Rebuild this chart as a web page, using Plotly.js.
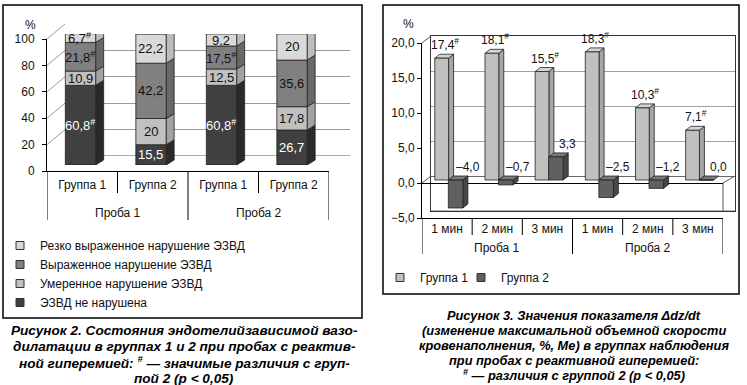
<!DOCTYPE html>
<html><head><meta charset="utf-8">
<script src="https://cdn.plot.ly/plotly-3.0.1.min.js"></script>
<style>html,body{margin:0;padding:0;background:#fff;}#chart{width:747px;height:385px;}</style>
</head><body><div id="chart"></div>
<script>
// ===== Figure 2 data (stacked, %) =====
const fig2Tests = ["Проба 1", "Проба 1", "Проба 2", "Проба 2"];
const fig2Groups = ["Группа 1", "Группа 2", "Группа 1", "Группа 2"];
const fig2SeriesNames = ["ЭЗВД не нарушена", "Умеренное нарушение ЭЗВД", "Выраженное нарушение ЭЗВД", "Резко выраженное нарушение ЭЗВД"];
const notImpaired = [60.8, 15.5, 60.8, 26.7];
const moderate = [10.9, 20, 12.5, 17.8];
const marked = [21.8, 42.2, 17.5, 35.6];
const severe = [6.7, 22.2, 9.2, 20];
const notImpairedSig = [true, false, true, false];
const moderateSig = [false, false, false, false];
const markedSig = [true, false, true, false];
const severeSig = [true, false, false, false];
const fig2Ticks = [0, 20, 40, 60, 80, 100];
const fig2Caption = [
  "Рисунок 2. Состояния эндотелийзависимой вазо-",
  "дилатации в группах 1 и 2 при пробах с реактив-",
  "ной гиперемией: <sup>#</sup> — значимые различия с груп-",
  "пой 2 (р &lt; 0,05)"
];

// ===== Figure 3 data (Δdz/dt, %) =====
const fig3Tests = ["Проба 1", "Проба 1", "Проба 1", "Проба 2", "Проба 2", "Проба 2"];
const fig3Minutes = ["1 мин", "2 мин", "3 мин", "1 мин", "2 мин", "3 мин"];
const fig3SeriesNames = ["Группа 1", "Группа 2"];
const group1 = [17.4, 18.1, 15.5, 18.3, 10.3, 7.1];
const group2 = [-4.0, -0.7, 3.3, -2.5, -1.2, 0.0];
const group1Sig = [true, true, true, true, true, true];
const group2Sig = [false, false, false, false, false, false];
const fig3Ticks = [-5, 0, 5, 10, 15, 20];
const fig3Caption = [
  "Рисунок 3. Значения показателя Δdz/dt",
  "(изменение максимальной объемной скорости",
  "кровенаполнения, %, Ме) в группах наблюдения",
  "при пробах с реактивной гиперемией:",
  "<sup>#</sup> — различия с группой 2 (р &lt; 0,05)"
];

// ===== geometry (pixels) =====
const W = 747, H = 385;
const px = x => x / W;
const py = y => 1 - y / H;
const FONT = '"Liberation Sans", Arial, sans-serif';
const CAPFONT = '"Liberation Sans", Arial, sans-serif';

const L = {fx0: 47, fx1: 329, tick0: 171, tickTop: 39, bar0: 165, barTop: 34, bx0: 65, bx1: 350, back0: 156, backTop: 24,
  innerSepBot: 193, outerY: 213, divBot: 220};
const R = {fx0: 422, fx1: 723, tickBot: 218, tickTop: 43, barBot: 215, barTop: 40, bx0: 431, bx1: 735, backBot: 211, backTop: 36,
  innerSepBot: 235, outerY: 248, divBot: 254};

const fig2Range = [0, 100], fig3Range = [-5, 20];
const nL = fig2Groups.length, nR = fig3Minutes.length;
const idx2 = fig2Groups.map((_, i) => i);
const idx3 = fig3Minutes.map((_, i) => i);

// pixel -> axis-unit conversions for 3D depth
const L_xUnitPx = (L.fx1 - L.fx0) / nL;
const L_yUnitPx = (L.bar0 - L.barTop) / (fig2Range[1] - fig2Range[0]);
const L_backUnitPx = (L.back0 - L.backTop) / (fig2Range[1] - fig2Range[0]);
const L_frontOff = (L.tick0 - L.back0) / L_backUnitPx;
const R_xUnitPx = (R.fx1 - R.fx0) / nR;
const R_yUnitPx = (R.barBot - R.barTop) / (fig3Range[1] - fig3Range[0]);
const R_backUnitPx = (R.backBot - R.backTop) / (fig3Range[1] - fig3Range[0]);
const R_frontOff = (R.tickBot - R.backBot) / R_backUnitPx;

const L_dx = 8 / L_xUnitPx, L_dy = 5 / L_yUnitPx;
const R_dx = 5 / R_xUnitPx, R_dy = 4 / R_yUnitPx;

const barOffL = -0.24, barWL = 0.43;
const g1Off = -0.245, g1W = 0.275, g2Off = 0.025, g2W = 0.29;

const OUT = '#222';
const traces = [];
const shapes = [];
const annotations = [];

// --- subplot 1: left back-wall grid (x/y)
traces.push({type: 'scatter', x: [null], y: [null], xaxis: 'x', yaxis: 'y', showlegend: false, hoverinfo: 'skip'});
// --- subplot 2: left label axes
traces.push({type: 'scatter', x: [null], y: [null], xaxis: 'x2', yaxis: 'y2', showlegend: false, hoverinfo: 'skip'});

// --- subplot 3: left stacked bars
const fig2Series = [
  {name: fig2SeriesNames[0], vals: notImpaired, sig: notImpairedSig, color: '#404040', side: '#2a2a2a', top: '#585858', text: '#ffffff'},
  {name: fig2SeriesNames[1], vals: moderate, sig: moderateSig, color: '#c0c0c0', side: '#a2a2a2', top: '#d0d0d0', text: '#111111'},
  {name: fig2SeriesNames[2], vals: marked, sig: markedSig, color: '#808080', side: '#686868', top: '#959595', text: '#111111'},
  {name: fig2SeriesNames[3], vals: severe, sig: severeSig, color: '#d9d9d9', side: '#bdbdbd', top: '#e9e9e9', text: '#111111'}
];
const fmt2 = v => Number.isInteger(v) ? String(v) : v.toFixed(1).replace('.', ',');
const fmt3 = v => (v < 0 ? '–' : '') + Math.abs(v).toFixed(1).replace('.', ',');

let cum = idx2.map(() => 0);
fig2Series.forEach((s, si) => {
  const base = cum.slice();
  traces.push({type: 'bar', x: idx2, y: s.vals, base: base, offset: barOffL, width: barWL,
    xaxis: 'x3', yaxis: 'y3', marker: {color: s.color, line: {color: OUT, width: 0.8}},
    showlegend: false, hoverinfo: 'skip'});
  idx2.forEach(i => {
    const b = base[i], t = base[i] + s.vals[i];
    const xr = i + barOffL + barWL, xl = i + barOffL;
    shapes.push({type: 'path', xref: 'x3', yref: 'y3', layer: 'between',
      path: `M ${xr},${b} L ${xr + L_dx},${b + L_dy} L ${xr + L_dx},${t + L_dy} L ${xr},${t} Z`,
      fillcolor: s.side, line: {color: OUT, width: 0.8}});
    if (si === fig2Series.length - 1) {
      shapes.push({type: 'path', xref: 'x3', yref: 'y3', layer: 'between',
        path: `M ${xl},${t} L ${xr},${t} L ${xr + L_dx},${t + L_dy} L ${xl + L_dx},${t + L_dy} Z`,
        fillcolor: s.top, line: {color: OUT, width: 0.8}});
    }
    annotations.push({xref: 'x3', yref: 'y3', x: xl + barWL / 2, y: (b + t) / 2, xanchor: 'center', yanchor: 'middle', showarrow: false,
      text: fmt2(s.vals[i]) + (s.sig[i] ? '<sup>#</sup>' : ''), font: {family: FONT, size: 13, color: s.text}});
  });
  cum = cum.map((c, i) => c + s.vals[i]);
});
// legend entries (top to bottom as in the reference)
[3, 2, 1, 0].forEach(si => {
  const s = fig2Series[si];
  traces.push({type: 'scatter', mode: 'markers', x: [null], y: [null], xaxis: 'x3', yaxis: 'y3', name: s.name,
    legend: 'legend', marker: {symbol: 'square', size: 8, color: s.color, line: {color: '#333', width: 1}}, hoverinfo: 'skip'});
});

// --- subplot 4: right back wall grid
traces.push({type: 'scatter', x: [null], y: [null], xaxis: 'x4', yaxis: 'y4', showlegend: false, hoverinfo: 'skip'});
// --- subplot 5: right label axes
traces.push({type: 'scatter', x: [null], y: [null], xaxis: 'x5', yaxis: 'y5', showlegend: false, hoverinfo: 'skip'});
// --- subplot 6: right bars
const fig3Series = [
  {name: fig3SeriesNames[0], vals: group1, sig: group1Sig, off: g1Off, w: g1W, color: '#c0c0c0', side: '#a6a6a6', top: '#d4d4d4', xshift: 3, legend: 'legend2'},
  {name: fig3SeriesNames[1], vals: group2, sig: group2Sig, off: g2Off, w: g2W, color: '#606060', side: '#484848', top: '#7a7a7a', xshift: 12, legend: 'legend3'}
];
fig3Series.forEach(s => {
  traces.push({type: 'bar', x: idx3, y: s.vals, offset: s.off, width: s.w, xaxis: 'x6', yaxis: 'y6',
    marker: {color: s.color, line: {color: OUT, width: 0.8}}, showlegend: false, hoverinfo: 'skip'});
  idx3.forEach(i => {
    const v = s.vals[i];
    const lo = Math.min(0, v), hi = Math.max(0, v);
    const xl = i + s.off, xr = i + s.off + s.w;
    if (hi > lo) {
      shapes.push({type: 'path', xref: 'x6', yref: 'y6', layer: 'between',
        path: `M ${xr},${lo} L ${xr + R_dx},${lo + R_dy} L ${xr + R_dx},${hi + R_dy} L ${xr},${hi} Z`,
        fillcolor: s.side, line: {color: OUT, width: 0.8}});
    }
    shapes.push({type: 'path', xref: 'x6', yref: 'y6', layer: 'between',
      path: `M ${xl},${hi} L ${xr},${hi} L ${xr + R_dx},${hi + R_dy} L ${xl + R_dx},${hi + R_dy} Z`,
      fillcolor: s.top, line: {color: OUT, width: 0.8}});
    annotations.push({xref: 'x6', yref: 'y6', x: xl + s.w / 2, y: hi, xanchor: 'center', yanchor: 'bottom', yshift: 4, xshift: s.xshift,
      showarrow: false, text: fmt3(v) + (s.sig[i] ? '<sup>#</sup>' : ''), font: {family: FONT, size: 12, color: '#111'}});
  });
});
fig3Series.forEach(s => {
  traces.push({type: 'scatter', mode: 'markers', x: [null], y: [null], xaxis: 'x6', yaxis: 'y6', name: s.name,
    legend: s.legend, marker: {symbol: 'square', size: 8, color: s.color, line: {color: '#333', width: 1}}, hoverinfo: 'skip'});
});

// ===== decorations =====
shapes.push({type: 'rect', xref: 'paper', yref: 'paper', x0: px(3), x1: px(362), y0: py(318), y1: py(5), line: {color: '#000', width: 1.5}, layer: 'below'});
shapes.push({type: 'rect', xref: 'paper', yref: 'paper', x0: px(383), x1: px(739), y0: py(294), y1: py(5), line: {color: '#000', width: 1.5}, layer: 'below'});
// left floor + wall diagonals
shapes.push({type: 'path', xref: 'paper', yref: 'y', layer: 'below',
  path: `M ${px(L.fx0)},${-L_frontOff} L ${px(L.fx1)},${-L_frontOff} L ${px(L.bx1)},0 L ${px(L.bx0)},0 Z`,
  fillcolor: '#808080', line: {color: '#555', width: 1}});
fig2Ticks.slice(1).forEach(v => {
  shapes.push({type: 'path', xref: 'paper', yref: 'y', layer: 'below',
    path: `M ${px(L.fx0)},${v - L_frontOff} L ${px(L.bx0)},${v}`, line: {color: '#9a9a9a', width: 1}});
});
// right floor + wall edges
shapes.push({type: 'path', xref: 'paper', yref: 'y4', layer: 'below',
  path: `M ${px(R.fx0)},${-5 - R_frontOff} L ${px(R.fx1)},${-5 - R_frontOff} L ${px(R.bx1)},-5 L ${px(R.bx0)},-5 Z`,
  fillcolor: '#d6d6d6', line: {color: '#777', width: 1}});
[20, 0].forEach(v => {
  shapes.push({type: 'path', xref: 'paper', yref: 'y4', layer: 'below',
    path: `M ${px(R.fx0)},${v - R_frontOff} L ${px(R.bx0)},${v}`, line: {color: '#555', width: 1}});
});
shapes.push({type: 'path', xref: 'paper', yref: 'y4', layer: 'below',
  path: `M ${px(R.fx1)},${-5 - R_frontOff} L ${px(R.fx1)},${-R_frontOff} L ${px(R.bx1)},0`, line: {color: '#555', width: 1}});

// two-level category labels: inner separators, outer dividers and outer labels
function groupLabels(tests, xref, G) {
  let start = 0;
  for (let i = 0; i <= tests.length; i++) {
    if (i === tests.length || tests[i] !== tests[start]) {
      annotations.push({xref: xref, yref: 'paper', x: (start + i - 1) / 2, y: py(G.outerY), xanchor: 'center', yanchor: 'middle',
        showarrow: false, text: tests[start], font: {family: FONT, size: 12, color: '#111'}});
      if (start === 0) shapes.push({type: 'line', xref: xref, yref: 'paper', x0: -0.5, x1: -0.5, y0: py(G.tickBotY), y1: py(G.divBot), line: {color: '#000', width: 1}});
      shapes.push({type: 'line', xref: xref, yref: 'paper', x0: i - 0.5, x1: i - 0.5, y0: py(G.tickBotY), y1: py(G.divBot), line: {color: '#000', width: 1}});
      start = i;
    } else if (i > start) {
      shapes.push({type: 'line', xref: xref, yref: 'paper', x0: i - 0.5, x1: i - 0.5, y0: py(G.tickBotY), y1: py(G.innerSepBot), line: {color: '#000', width: 1}});
    }
  }
}
groupLabels(fig2Tests, 'x3', Object.assign({tickBotY: L.tick0}, L));
groupLabels(fig3Tests, 'x6', Object.assign({tickBotY: R.tickBot}, R));

// percent labels
annotations.push({xref: 'paper', yref: 'paper', x: px(30), y: py(25), xanchor: 'center', yanchor: 'middle', text: '%', showarrow: false, font: {family: FONT, size: 12, color: '#111'}});
annotations.push({xref: 'paper', yref: 'paper', x: px(408), y: py(24), xanchor: 'center', yanchor: 'middle', text: '%', showarrow: false, font: {family: FONT, size: 12, color: '#111'}});
// captions
const capL_y = [330, 346, 362, 378];
fig2Caption.forEach((t, k) => annotations.push({xref: 'paper', yref: 'paper', x: px(184), y: py(capL_y[k]), xanchor: 'center', yanchor: 'middle', showarrow: false,
  text: '<b><i>' + t + '</i></b>', font: {family: CAPFONT, size: 13.6, color: '#000'}}));
const capR_y = [315, 330, 345, 360, 375];
fig3Caption.forEach((t, k) => annotations.push({xref: 'paper', yref: 'paper', x: px(574), y: py(capR_y[k]), xanchor: 'center', yanchor: 'middle', showarrow: false,
  text: '<b><i>' + t + '</i></b>', font: {family: CAPFONT, size: 12.8, color: '#000'}}));

const tickFont = {family: FONT, size: 12, color: '#111'};
const legendBase = {xanchor: 'left', yanchor: 'top', bgcolor: 'rgba(0,0,0,0)', font: {family: FONT, size: 12, color: '#111'}};
const layout = {
  width: W, height: H, margin: {l: 0, r: 0, t: 0, b: 0},
  paper_bgcolor: '#ffffff', plot_bgcolor: 'rgba(0,0,0,0)',
  separators: ', ', barmode: 'overlay', showlegend: true,
  font: {family: FONT, size: 12, color: '#111'},
  // left back grid
  xaxis: {domain: [px(L.bx0), px(L.bx1)], range: [0, 1], anchor: 'y', visible: false},
  yaxis: {domain: [py(L.back0), py(L.backTop)], range: fig2Range, anchor: 'x', tickvals: fig2Ticks, showgrid: true,
    gridcolor: '#9a9a9a', gridwidth: 1, showticklabels: false, ticks: '', showline: false, zeroline: false},
  // left label axes
  xaxis2: {domain: [px(L.fx0), px(L.fx1)], range: [-0.5, nL - 0.5], anchor: 'y2', tickvals: idx2, ticktext: fig2Groups,
    showline: true, linecolor: '#000', linewidth: 1, ticks: '', tickfont: tickFont, showgrid: false, zeroline: false, ticklabelstandoff: 3},
  yaxis2: {domain: [py(L.tick0), py(L.tickTop)], range: fig2Range, anchor: 'x2', tickvals: fig2Ticks, ticks: 'outside',
    ticklen: 4, tickcolor: '#000', showline: true, linecolor: '#000', showgrid: false, zeroline: false, tickfont: tickFont, ticklabelstandoff: 5},
  // left bars
  xaxis3: {domain: [px(L.fx0), px(L.fx1)], range: [-0.5, nL - 0.5], anchor: 'y3', visible: false},
  yaxis3: {domain: [py(L.bar0), py(L.barTop)], range: fig2Range, anchor: 'x3', visible: false},
  // right back wall
  xaxis4: {domain: [px(R.bx0), px(R.bx1)], range: [0, 1], anchor: 'y4', showline: true, mirror: true, linecolor: '#333',
    showticklabels: false, ticks: '', showgrid: false, zeroline: false},
  yaxis4: {domain: [py(R.backBot), py(R.backTop)], range: fig3Range, anchor: 'x4', tickvals: fig3Ticks, showgrid: true,
    gridcolor: '#a0a0a0', showline: true, mirror: true, linecolor: '#333', showticklabels: false, ticks: '',
    zeroline: true, zerolinecolor: '#666', zerolinewidth: 1},
  // right label axes
  xaxis5: {domain: [px(R.fx0), px(R.fx1)], range: [-0.5, nR - 0.5], anchor: 'y5', tickvals: idx3, ticktext: fig3Minutes,
    showline: true, linecolor: '#000', linewidth: 1, ticks: '', tickfont: tickFont, showgrid: false, zeroline: false},
  yaxis5: {domain: [py(R.tickBot), py(R.tickTop)], range: fig3Range, anchor: 'x5', tickvals: fig3Ticks, tickformat: '.1f',
    ticks: 'outside', ticklen: 4, tickcolor: '#000', showline: true, linecolor: '#000', showgrid: false,
    zeroline: true, zerolinecolor: '#000', zerolinewidth: 1, tickfont: tickFont},
  // right bars
  xaxis6: {domain: [px(R.fx0), px(R.fx1)], range: [-0.5, nR - 0.5], anchor: 'y6', visible: false},
  yaxis6: {domain: [py(R.barBot), py(R.barTop)], range: fig3Range, anchor: 'x6', visible: false},
  legend: Object.assign({}, legendBase, {x: px(0), y: py(231), orientation: 'v', traceorder: 'normal'}),
  legend2: Object.assign({}, legendBase, {x: px(380), y: py(263), orientation: 'h'}),
  legend3: Object.assign({}, legendBase, {x: px(461), y: py(263), orientation: 'h'}),
  shapes: shapes,
  annotations: annotations
};
Plotly.newPlot('chart', traces, layout, {displayModeBar: false, staticPlot: true});
</script>
</body></html>
